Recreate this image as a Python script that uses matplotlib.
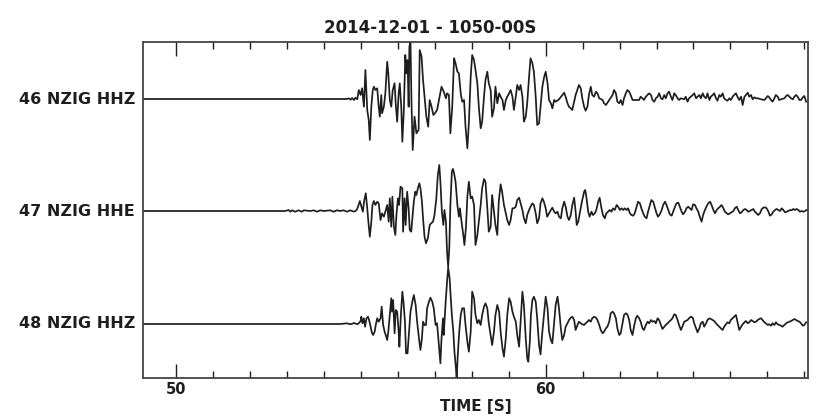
import matplotlib
matplotlib.use("Agg")
import matplotlib.pyplot as plt
from matplotlib.ticker import MultipleLocator

title = "2014-12-01 - 1050-00S"
xlabel = "TIME [S]"
trace_labels = ["46 NZIG HHZ", "47 NZIG HHE", "48 NZIG HHZ"]
xticks = [50, 60]

# ---- trace 46 NZIG HHZ (time s, amplitude) ----
t46 = [49.10, 54.44, 54.62, 54.67, 54.72, 54.76, 54.81, 54.85, 54.90, 54.94, 54.99, 55.03, 55.08, 55.12, 55.17,
       55.21, 55.24, 55.28, 55.32, 55.35, 55.39, 55.44, 55.48, 55.51, 55.55, 55.57, 55.62, 55.66, 55.71, 55.74,
       55.78, 55.82, 55.86, 55.91, 55.94, 55.98, 56.02, 56.05, 56.09, 56.12, 56.16, 56.20, 56.23, 56.26, 56.29,
       56.31, 56.34, 56.37, 56.40, 56.45, 56.50, 56.56, 56.59, 56.64, 56.68, 56.73, 56.77, 56.82, 56.86, 56.91,
       56.96, 57.00, 57.06, 57.13, 57.18, 57.24, 57.30, 57.33, 57.38, 57.42, 57.47, 57.52, 57.56, 57.61, 57.65,
       57.70, 57.74, 57.79, 57.83, 57.88, 57.92, 57.97, 58.01, 58.06, 58.10, 58.15, 58.19, 58.24, 58.28, 58.33,
       58.37, 58.42, 58.46, 58.51, 58.55, 58.60, 58.64,
       58.69, 58.74, 58.78, 58.83, 58.87, 58.92, 58.96, 59.01, 59.05, 59.10, 59.14, 59.19, 59.23, 59.28, 59.32,
       59.37, 59.41, 59.46, 59.50, 59.55, 59.59, 59.64, 59.68, 59.73, 59.77, 59.82, 59.86, 59.91, 59.96, 60.00,
       60.05, 60.09, 60.14, 60.18, 60.23, 60.27, 60.36, 60.45, 60.50, 60.54, 60.59, 60.63, 60.68, 60.72, 60.81,
       60.90, 60.95, 60.99, 61.04, 61.08, 61.13, 61.17, 61.22, 61.26, 61.31, 61.36, 61.40, 61.45, 61.54, 61.58,
       61.63, 61.72, 61.81, 61.85, 61.90, 61.94, 61.99, 62.03, 62.08, 62.12, 62.17, 62.21, 62.26, 62.30, 62.35,
       62.44, 62.53, 62.57, 62.62, 62.66, 62.71, 62.80,
       62.85, 62.89, 62.94, 62.98, 63.03, 63.07, 63.12, 63.16, 63.21, 63.25, 63.30, 63.34, 63.39, 63.43, 63.48,
       63.52, 63.57, 63.61, 63.66, 63.75, 63.79, 63.84, 63.88, 63.93, 63.98, 64.02, 64.07, 64.11, 64.16, 64.20,
       64.25, 64.29, 64.34, 64.38, 64.43, 64.47, 64.52, 64.56, 64.61, 64.65, 64.70, 64.74, 64.79, 64.83, 64.88,
       64.92, 64.97, 65.01, 65.06, 65.10, 65.15, 65.19, 65.24, 65.29, 65.33, 65.38, 65.42, 65.47, 65.51, 65.56,
       65.60, 65.65, 65.69, 65.74, 65.83, 65.92, 65.96, 66.01, 66.05, 66.10, 66.14, 66.19, 66.23, 66.28, 66.32,
       66.37, 66.46, 66.51, 66.55, 66.60, 66.64, 66.69, 66.73, 66.78, 66.82, 66.87, 66.91, 66.96, 67.00, 67.05]
a46 = [0, 0, 0, 0.7, -0.7, 1, -1, 1.3, -0.3, 9, 4, 10.7, -7.7, 29, -11,
       -21, -41, -7.7, 9, 12.3, 9, 10.7, -7.7, -17.7, 4, -14.3, -7.7, 5.7, 37.3, 25.7,
       -1, -7.7, 9, 15.7, -4.3, -22.7, 5.7, 15.7, -7.7, -42.7, -11, 44, 25.7, 39, -7.7,
       52.3, 57.3, -7.7, -51, -17.7, -34.3, -31, 49, 42.3, 19, -1, -17.7, -27.7, -1, -7.7,
       -16, -14.3, -11, 2.3, 12.3, 7.3, 0.7, 5.7, 4, -34.3, -7.7, 40.7, 35.7, 27.3, 25.7,
       5.7, -2.7, -1, -27.7, -49.3, -24.3, 22.3, 44, 39, 29, 15.7, -7.7, -29.3, -22.7, 2.3,
       19, 27.3, 15.7, 9, -17.7, -9.3, 12.3,
       -4.3, 5.7, 2.3, -1, -11, -1, 2.3, 5.7, 9, 2.3, -11, 2.3, 14, 9, 14,
       2.3, -22.7, -17.7, -4.3, 22.3, 40.7, 35.7, 27.3, 2.3, -26, -24.3, -7.7, 12.3, 22.3, 27.3,
       15.7, -1, -4.3, -9.3, -1, -2.7, -0.3, 4, 6.3, 2.3, -4.3, -7.7, -9.3, -11, 4,
       14, 10.7, 0.7, -7.7, -11.7, -7.7, 4, 12.3, 4, 2.3, 7.3, 5.7, 0.7, -1, -4.3,
       -6, -1, 4, 9, 5.7, -2.7, -4.3, -1, -6, 0.7, 5.7, 9, 7.3, 4, -1,
       -1, -1, 2.3, 0.7, -1, 2.3, 5.7,
       4, -1, -2.7, 0.7, 2.3, 5.7, 0.7, -0.3, 4, 0.7, 5.7, 7.3, 2.3, -1, 5.7,
       4, 0.7, -1, 0.7, -0.3, 2.3, -2.7, 0.7, 2.3, 4, 5.7, 0.7, 2.3, 4, 0.7,
       5.7, 2.3, 0.7, 5.7, -1, 2.3, 4, 5.7, 0.7, -1.7, 4, 2.3, 5.7, 0.7, -1,
       -1.7, 0.7, -1, 2.3, 4, 5.7, 2.3, -1, 2.3, -6, 2.3, 4, 6.3, 2.3, 4,
       -0.3, 1.7, 0.7, 0.7, -0.3, -1, 0.7, 3, 1.7, -1, -2.7, 0.7, 4, 2.3, -1,
       -0.3, 0.7, 3, 4, 2.3, 0.7, -0.3, 2.3, 4, 2.3, -1, -1, 1.7, 3, -2.7]

# ---- trace 47 NZIG HHE ----
t47 = [49.10, 52.91, 52.95, 53.04, 53.09, 53.13, 53.22, 53.31, 53.40, 53.45, 53.63, 53.72, 53.81, 53.90, 53.99,
       54.17, 54.26, 54.35, 54.44, 54.53, 54.62, 54.71, 54.81, 54.88, 54.92, 54.97, 55.00, 55.05, 55.09, 55.13,
       55.17, 55.20, 55.24, 55.28, 55.31, 55.35, 55.39, 55.44, 55.48, 55.53, 55.57, 55.62, 55.66, 55.71, 55.75,
       55.78, 55.82, 55.85, 55.89, 55.93, 55.96, 56.00, 56.03, 56.07, 56.12, 56.14, 56.18, 56.21, 56.25, 56.29,
       56.32, 56.36, 56.40, 56.43, 56.47, 56.50, 56.54, 56.58, 56.61, 56.65, 56.68, 56.72, 56.76,
       56.81, 56.86, 56.90, 56.95, 56.99, 57.04, 57.08, 57.12, 57.15, 57.19, 57.23, 57.26, 57.30, 57.33, 57.36,
       57.39, 57.42, 57.46, 57.49, 57.52, 57.56, 57.61, 57.65, 57.68, 57.71, 57.77, 57.80, 57.84, 57.88, 57.92,
       57.97, 58.01, 58.06, 58.10, 58.15, 58.19, 58.24, 58.28, 58.33, 58.37, 58.42, 58.46, 58.51, 58.55, 58.60,
       58.64, 58.69, 58.73, 58.78, 58.82, 58.87, 58.92, 58.96, 59.01, 59.05, 59.10, 59.14, 59.19, 59.23, 59.28,
       59.32, 59.37, 59.41, 59.46, 59.50, 59.55, 59.59, 59.64, 59.68, 59.73, 59.77, 59.82, 59.86, 59.91, 59.95,
       60.00, 60.04, 60.09, 60.14, 60.18, 60.23, 60.27, 60.32, 60.36, 60.41, 60.45, 60.50, 60.54, 60.59, 60.63,
       60.68, 60.72, 60.77, 60.81, 60.84,
       60.88, 60.93, 60.98, 61.04, 61.07, 61.10, 61.15, 61.19, 61.24, 61.28, 61.33, 61.37, 61.42, 61.46, 61.51,
       61.55, 61.60, 61.64, 61.69, 61.73, 61.78, 61.82, 61.87, 61.92, 61.96, 62.01, 62.05, 62.10, 62.14, 62.19,
       62.23, 62.28, 62.32, 62.37, 62.41, 62.46, 62.50, 62.55, 62.59, 62.64, 62.68, 62.73, 62.77, 62.82, 62.86,
       62.91, 62.95, 63.00, 63.04, 63.09, 63.14, 63.18, 63.23, 63.27, 63.32, 63.36, 63.41, 63.45, 63.50, 63.54,
       63.59, 63.63, 63.68, 63.72, 63.77, 63.81, 63.86, 63.90, 63.95, 63.99, 64.04, 64.08, 64.13, 64.17, 64.22,
       64.26, 64.31, 64.35, 64.40, 64.45, 64.49, 64.54, 64.58, 64.63, 64.67, 64.72, 64.76, 64.81, 64.85, 64.90,
       64.94, 64.99, 65.03, 65.08, 65.12, 65.17, 65.21, 65.26, 65.30, 65.35, 65.39, 65.44, 65.48, 65.53, 65.57,
       65.62, 65.66, 65.71, 65.75, 65.80, 65.85, 65.89, 65.94, 65.98, 66.03, 66.07, 66.12, 66.16, 66.21, 66.25,
       66.30, 66.34, 66.39, 66.43, 66.48, 66.52, 66.57, 66.61, 66.66, 66.70, 66.75, 66.79, 66.84, 66.88, 66.93,
       66.97, 67.02, 67.06]
a47 = [0, 0, 0, 1, -0.7, 0.7, -0.7, 0.7, -0.7, 0.7, 0, 0.7, -0.7, 0.7, 0,
       0.7, -0.7, 0.7, 0, 0.7, -0.7, 0.7, -0.7, 0.7, 4.3, 10, 6, -0.7, 11, 17.7,
       2.7, -10.7, -25.7, -10.7, 6, 10, 6, 9.3, 7.7, -9, -2.3, -5.7, -0.7, 6, -10.7,
       12.7, -15.7, 14.3, -15.7, -24, -4, 12.7, 6, 24.3, 22.7, -20.7, 12.7, -14, 19.3, 2.7,
       -19, -20.7, -4, 9.3, 19.3, 16, 22.7, 27.7, 22.7, 9.3, -7.3, -25.7, -32.3,
       -27.3, -14, -12.3, -10.7, -4, 12.7, 36, 46, 29.3, -0.7, -14, 1, -10.7, -40.7, -55.7,
       -37.3, 6, 39.3, 42, 37.7, 29.3, 6, -5.7, 2.7, -7.3, -24, -34, -17.3, 14.3, 29.3,
       12.7, 14.3, 6, -34, -24, -10.7, 6, 22.7, 32, 29.3, 2.7, -20.7, -15.7, 16, -0.7,
       -14, -24, 9.3, 26.7, 19.3, 6, -2.3, -9, -14, -9, 2.7, 2.7, 4.3, 11, 13.3,
       7.7, 1, -7.3, -12.3, -4, 1, 4.3, 7.7, 6, -2.3, -12.3, -7.3, 7.7, 12.7, 9.3,
       2.7, -5.7, -2.3, 1, 3.3, -0.7, -2.3, -0.7, -5.7, -7.3, 2.7, 9.3, 4.3, -5.7, -9,
       -4, 6, 13.3, -0.7, -14,
       -10.7, -0.7, 9.3, 19.3, 21, 14.3, -0.7, -5.7, -0.7, -4, -2.3, 1, 9.3, 13.3, 2.7,
       -4, -7.3, -2.3, -0.7, 1, -0.7, 2.7, 1, 6, 4.3, 1, 2.7, 1, 2.7, 1,
       2.7, -2.3, -4, -4.7, -2.3, 4.3, 9.3, 7.7, 2.7, -2.3, -5.7, -7.3, -0.7, 6, 11,
       9.3, 4.3, -2.3, -5.7, -3.3, 1, 6, 9.3, 6, 1, -3.3, -4.7, -0.7, 4.3, 7.7,
       8.3, 4.3, -0.7, -3.3, -0.7, 2.7, 4.3, 2.7, 1, 6.7, 6, 2.7, -0.7, -5.7, -10.7,
       -4, 1, 4.3, 7.7, 9.3, 6, 1, -2.3, 1, 2.7, 4.3, 6, 2.7, -0.7, -2.3,
       -3.3, -2.3, -1.3, 0, 2.7, 4.3, 1, -2.3, -1.3, 1, 2, 1, -0.7, 0, 1,
       2, -0.7, -2.3, -4, -2.3, 2, 3.3, 3.7, 2.7, -0.7, -4.7, -3.3, -0.7, 1, 2,
       1, 0, 2.7, 1, -1.3, -0.7, 0, 1, 0.7, 2, 1, 2, 1, -0.7, 0,
       -0.7, 0, 1]

# ---- trace 48 NZIG HHZ ----
t48 = [49.10, 54.44, 54.62, 54.72, 54.81, 54.90, 54.94, 54.99, 55.01, 55.04, 55.08, 55.11, 55.15, 55.19, 55.22,
       55.26, 55.30, 55.33, 55.37, 55.40, 55.44, 55.48, 55.53, 55.56, 55.60, 55.64, 55.67, 55.71, 55.74, 55.78,
       55.82, 55.84, 55.87, 55.91, 55.94, 55.98, 56.02, 56.04, 56.08, 56.12, 56.15, 56.19, 56.22, 56.26, 56.30,
       56.34, 56.39, 56.43, 56.48, 56.52, 56.57, 56.61, 56.65, 56.68, 56.72, 56.76, 56.79, 56.84, 56.88, 56.93,
       56.97, 57.02, 57.06, 57.11, 57.15, 57.18, 57.22, 57.24, 57.29, 57.33, 57.36, 57.40, 57.42, 57.46, 57.50,
       57.53, 57.57, 57.59, 57.62, 57.66, 57.70, 57.74, 57.79, 57.83, 57.88, 57.92, 57.97, 58.01, 58.06, 58.10,
       58.15, 58.19, 58.24, 58.28, 58.33, 58.37, 58.42, 58.46, 58.51, 58.55, 58.60, 58.64,
       58.69, 58.74, 58.78, 58.83, 58.87, 58.92, 58.96, 59.01, 59.05, 59.10, 59.14, 59.19, 59.23, 59.28, 59.32,
       59.37, 59.41, 59.46, 59.50, 59.53, 59.57, 59.60, 59.64, 59.68, 59.73, 59.77, 59.82, 59.86, 59.91, 59.96,
       60.00, 60.05, 60.09, 60.14, 60.18, 60.23, 60.27, 60.32, 60.36, 60.41, 60.45, 60.50, 60.54, 60.59, 60.63,
       60.68, 60.72, 60.77, 60.81, 60.86, 60.90, 60.95, 60.99, 61.04, 61.08, 61.13, 61.17, 61.22, 61.26, 61.31,
       61.36, 61.40, 61.45, 61.49, 61.54, 61.58, 61.63, 61.67, 61.72, 61.76, 61.81, 61.85, 61.90, 61.94, 61.99,
       62.03, 62.08, 62.12, 62.17, 62.21, 62.26, 62.30, 62.35, 62.39, 62.44, 62.48, 62.53, 62.57, 62.62, 62.66,
       62.71, 62.76, 62.80,
       62.85, 62.89, 62.94, 62.98, 63.03, 63.07, 63.12, 63.16, 63.21, 63.25, 63.30, 63.34, 63.39, 63.43, 63.48,
       63.52, 63.57, 63.61, 63.66, 63.70, 63.75, 63.79, 63.84, 63.88, 63.93, 63.98, 64.02, 64.07, 64.11, 64.16,
       64.20, 64.25, 64.29, 64.34, 64.38, 64.43, 64.47, 64.52, 64.56, 64.61, 64.65, 64.70, 64.74, 64.79, 64.83,
       64.88, 64.92, 64.97, 65.01, 65.06, 65.10, 65.15, 65.19, 65.24, 65.29, 65.33, 65.38, 65.42, 65.47, 65.51,
       65.56, 65.60, 65.65, 65.69, 65.74, 65.78, 65.83, 65.87, 65.92, 65.96, 66.01, 66.05, 66.10, 66.14, 66.19,
       66.23, 66.28, 66.32, 66.37, 66.41, 66.46, 66.51, 66.55, 66.60, 66.64, 66.69, 66.73, 66.78, 66.82, 66.87,
       66.91, 66.96, 67.00, 67.05]
a48 = [0, 0, 0.7, -0.3, 1, -0.3, 0.7, 3, 7.3, 0.7, 5.7, -2.7, 5.7, 7.3, 4,
       -2.7, -9.3, -11, -7.7, -1, 5.7, 2.3, 5.7, 17.3, -1, -7.7, -11, -16, -7.7, 9,
       25.7, 12.3, 24, -9.3, 14, 12.3, -7.7, -22.7, 9, 32.3, 22.3, 2.3, -29.3, -29.3, -7.7,
       12.3, 22.3, 29, 19, 2.3, -14.3, -26, -14.3, 2.3, -1, -1, 15.7, 22.3, 26.3, 22.3,
       15.7, -1, 0.7, -21, -39.3, -14.3, 5.7, -11, 20.7, 42.3, 56.3, 45.7, 32.3, 9, -7.7,
       -27.7, -44.3, -56, -31, -7.7, 9, 15.7, 15.7, -1, -17.7, -27.7, -7.7, 32.3, 25.7, 9,
       0.7, 4, -1, 9, 17.3, 20.7, 15.7, 0.7, -11, -21, -7.7, 9,
       19, 12.3, -7.7, -24.3, -32.7, -14.3, 9, 25.7, 22.3, 12.3, 7.3, 2.3, -11, -22.7, 2.3,
       32.3, 19, -14.3, -34.3, -37.7, -17.7, 9, 24, 27.3, 22.3, 5.7, -21, -30.3, -7.7, 12.3,
       27.3, 15.7, -7.7, -16, -19.3, 2.3, 19, 27.3, 15.7, -4.3, -16, -11, -2.7, 0.7, 4,
       6.3, 7.3, 4, -6, -1, 2.3, 0.7, -0.3, -1, 0.7, 2.3, 4, 2.3, 5.7, 7.3,
       6.3, 4, -1, -6, -9.3, -7.7, -4.3, -2.7, 2.3, 10.7, 12.3, 10.7, 5.7, -4.3, -11,
       -9.3, 0.7, 9, 10.7, 9.7, 4, -6, -11, -2.7, 5.7, 8.3, 5.7, 2.3, -4.3, -6,
       -1, 2.3, 0.7,
       4, 2.3, 3, 0.7, 5.7, 4, -1, -5, -2.7, -1, 0.7, 2.3, 4, 5.7, 9.7,
       9, 4, -1, -6, -2.7, 2.3, 3, 4, 5.7, 7.3, 6.3, 0.7, -4.3, -8.3, -4.3,
       0.7, 2.3, -2.7, 0.7, 4, 5.7, 5, 4, 3, 0.7, -1, -2.7, -4.3, -6, -2.7,
       -0.3, 1.7, 0.7, 4, 5.7, 7.3, 9, 2.3, -6, -2.7, -0.3, 1.7, 3, 0.7, 1.7,
       4, 3, 1.7, 2.3, 4, 5, 5.7, 4, 1.7, 0.7, -1, -0.3, -1.7, 0.7, -1,
       1.7, -0.3, -1, -1.7, -2.7, -1, 0.7, 1.7, 2.3, 3, 4, 5, 4, 3, 2.3,
       0.7, -1.7, -1, 1.7]

times = [t46, t47, t48]
amps = [a46, a47, a48]

# ---- layout (pixel-like vertical units, 0 at bottom of the frame) ----
offsets = [279, 167, 54]
ink = "#1e1e1e"

fig = plt.figure(figsize=(8.24, 4.20), dpi=100)
ax = fig.add_axes([143 / 824, 42 / 420, 665 / 824, 336 / 420])

for t, a, off in zip(times, amps, offsets):
    ax.plot(t, [off + v for v in a], color=ink, lw=1.25, solid_joinstyle="round")

ax.set_xlim(49.1, 67.1)
ax.set_ylim(0, 336)

for lab, off in zip(trace_labels, offsets):
    ax.text(-0.012, off, lab, transform=ax.get_yaxis_transform(), ha="right", va="center",
            fontsize=11.5, fontweight="bold", color=ink)

fig.text(430 / 824, 1 - 28 / 420, title, ha="center", va="center",
         fontsize=12, fontweight="bold", color=ink)
ax.set_xlabel(xlabel, fontsize=11, fontweight="bold", color=ink, labelpad=1)

ax.set_xticks(xticks)
ax.set_xticklabels([str(v) for v in xticks], fontweight="bold", fontsize=10.5, color=ink)
ax.xaxis.set_minor_locator(MultipleLocator(1))
ax.tick_params(axis="x", which="major", direction="in", length=10, width=1.0, top=True, bottom=True,
               pad=3, colors=ink)
ax.tick_params(axis="x", which="minor", direction="in", length=5, width=1.0, top=True, bottom=True, colors=ink)
ax.set_yticks([])
for s in ax.spines.values():
    s.set_linewidth(1.3)
    s.set_color("#444444")

fig.savefig("out.png", dpi=100)
